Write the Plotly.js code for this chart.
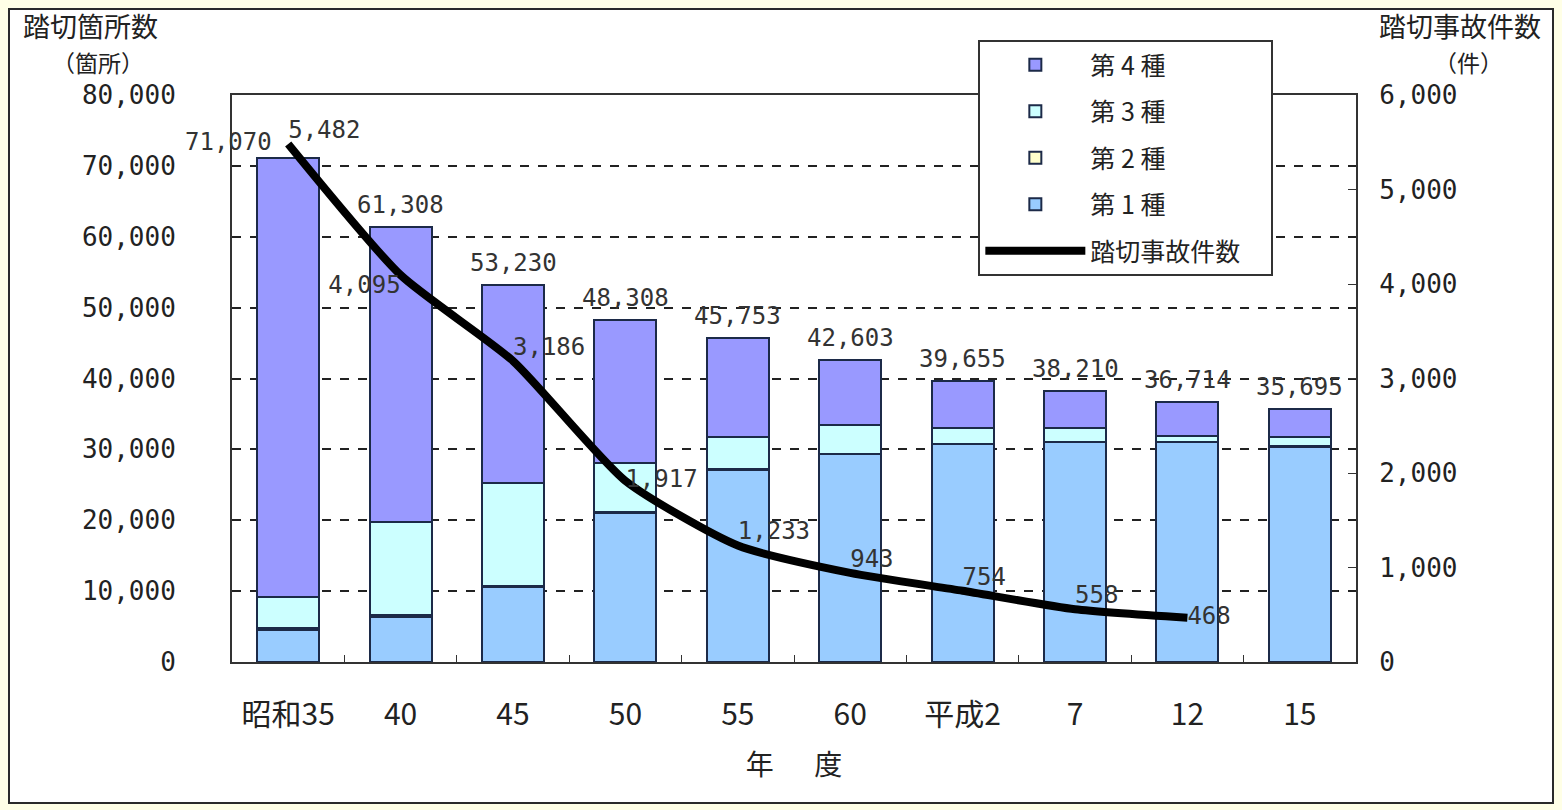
<!DOCTYPE html>
<html>
<head>
<meta charset="utf-8">
<script src="https://cdn.plot.ly/plotly-3.0.1.min.js"></script>
<style>
  html, body { margin:0; padding:0; background:#FFFFE6; width:1562px; height:810px; overflow:hidden; }
  #frame { position:absolute; left:8px; top:8px; width:1542px; height:792px; border:2px solid #2a2a2a; background:#ffffff; }
  #chart { position:absolute; left:0; top:0; width:1562px; height:810px; }
</style>
</head>
<body>
<div id="frame"></div>
<div id="chart"></div>
<script>
// Categories (年度)
const categories = ["昭和35", "40", "45", "50", "55", "60", "平成2", "7", "12", "15"];
// 踏切箇所数 by type
const type1 = [4500, 6400, 10600, 21000, 27100, 29300, 30700, 31000, 31000, 30400];
const type2 = [300, 300, 150, 100, 80, 40, 30, 20, 10, 10];
const type3 = [4400, 13050, 14500, 6950, 4550, 4090, 2270, 1980, 860, 1320];
const type4 = [61870, 41558, 27980, 20258, 14023, 9173, 6655, 5210, 4844, 3965];
const totals = [71070, 61308, 53230, 48308, 45753, 42603, 39655, 38210, 36714, 35695];
// 踏切事故件数
const accidentCats = ["昭和35", "40", "45", "50", "55", "60", "平成2", "7", "12"];
const accidents = [5482, 4095, 3186, 1917, 1233, 943, 754, 558, 468];

const fmt = v => v.toLocaleString('en-US');
const numFont = "DejaVu Sans Mono, Noto Sans CJK JP, sans-serif";
const jpFont = "Noto Sans CJK JP, sans-serif";
const edge = {color: "#1c2a48", width: 2};

const traces = [
  {type:"bar", name:"第 1 種", x:categories, y:type1, marker:{color:"#99CCFF", line:edge}, legendrank:4, legendgroup:"a"},
  {type:"bar", name:"第 2 種", x:categories, y:type2, marker:{color:"#FFFFCC", line:edge}, legendrank:3, legendgroup:"b"},
  {type:"bar", name:"第 3 種", x:categories, y:type3, marker:{color:"#CCFFFF", line:edge}, legendrank:2, legendgroup:"c"},
  {type:"bar", name:"第 4 種", x:categories, y:type4, marker:{color:"#9999FF", line:edge}, legendrank:1, legendgroup:"d"},
  {type:"scatter", mode:"lines+text", name:"踏切事故件数\u3000", x:accidentCats, y:accidents, yaxis:"y2",
   line:{color:"#000", width:8, shape:"spline", smoothing:0.6},
   text:accidents.map(fmt), cliponaxis:false,
   textposition:["top right","bottom left","top right","middle right","top right","top right","top right","top right","middle right"],
   textfont:{family:numFont, size:24, color:"#333"}, legendrank:5, legendgroup:"e"}
];

// total labels above bars (category axis: annotation x is the category index)
const totalAnnotations = totals.map((v, i) => ({
  x: i, y: v, xref:"x", yref:"y",
  text: fmt(v), showarrow:false,
  xanchor: i === 0 ? "right" : "center", yanchor:"middle",
  xshift: i === 0 ? -14 : 0, yshift: i === 0 ? 16 : 22,
  font:{family:numFont, size:24, color:"#333"}
}));

const layout = {
  width:1562, height:810,
  margin:{l:232, r:206, t:95, b:148},
  paper_bgcolor:"rgba(0,0,0,0)",
  plot_bgcolor:"#ffffff",
  barmode:"stack",
  bargap:0.45,
  font:{family:jpFont, color:"#222"},
  xaxis:{
    type:"category", range:[-0.5, 9.5], autorange:false, tickangle:0,
    showline:true, linecolor:"#333", linewidth:2, mirror:true,
    ticks:"inside", tickson:"boundaries", ticklen:7, tickcolor:"#333",
    tickfont:{family:jpFont, size:30, color:"#222"},
    ticklabelstandoff:25,
    title:{text:"年　  度", font:{family:jpFont, size:28, color:"#222"}, standoff:22}
  },
  yaxis:{
    range:[0,80000], autorange:false, dtick:10000, tickformat:",d",
    showline:true, linecolor:"#333", linewidth:2,
    showgrid:true, gridcolor:"#222", griddash:"dash", gridwidth:2,
    zeroline:false,
    tickfont:{family:numFont, size:26, color:"#222"},
    ticklabelstandoff:49
  },
  yaxis2:{
    overlaying:"y", side:"right",
    range:[0,6000], autorange:false, dtick:1000, tickformat:",d",
    showline:true, linecolor:"#333", linewidth:2,
    showgrid:false, zeroline:false,
    ticks:"inside", ticklen:8, tickcolor:"#333",
    tickfont:{family:numFont, size:26, color:"#222"},
    ticklabelstandoff:16
  },
  legend:{
    x:0.664, y:1.097, xanchor:"left", yanchor:"top",
    bgcolor:"#ffffff", bordercolor:"#333", borderwidth:2,
    font:{family:jpFont, size:25, color:"#222"},
    traceorder:"grouped", tracegroupgap:11, itemwidth:100
  },
  annotations:[
    {text:"踏切箇所数", xref:"paper", yref:"paper", x:-0.188, y:1.122, xanchor:"left", yanchor:"middle", showarrow:false, font:{family:jpFont, size:27, color:"#222"}},
    {text:"（箇所）", xref:"paper", yref:"paper", x:-0.162, y:1.058, xanchor:"left", yanchor:"middle", showarrow:false, font:{family:jpFont, size:23, color:"#222"}},
    {text:"踏切事故件数", xref:"paper", yref:"paper", x:1.019, y:1.122, xanchor:"left", yanchor:"middle", showarrow:false, font:{family:jpFont, size:27, color:"#222"}},
    {text:"（件）", xref:"paper", yref:"paper", x:1.068, y:1.058, xanchor:"left", yanchor:"middle", showarrow:false, font:{family:jpFont, size:23, color:"#222"}}
  ].concat(totalAnnotations),
  showlegend:true
};

Plotly.newPlot("chart", traces, layout, {displayModeBar:false, staticPlot:true});
</script>
</body>
</html>
